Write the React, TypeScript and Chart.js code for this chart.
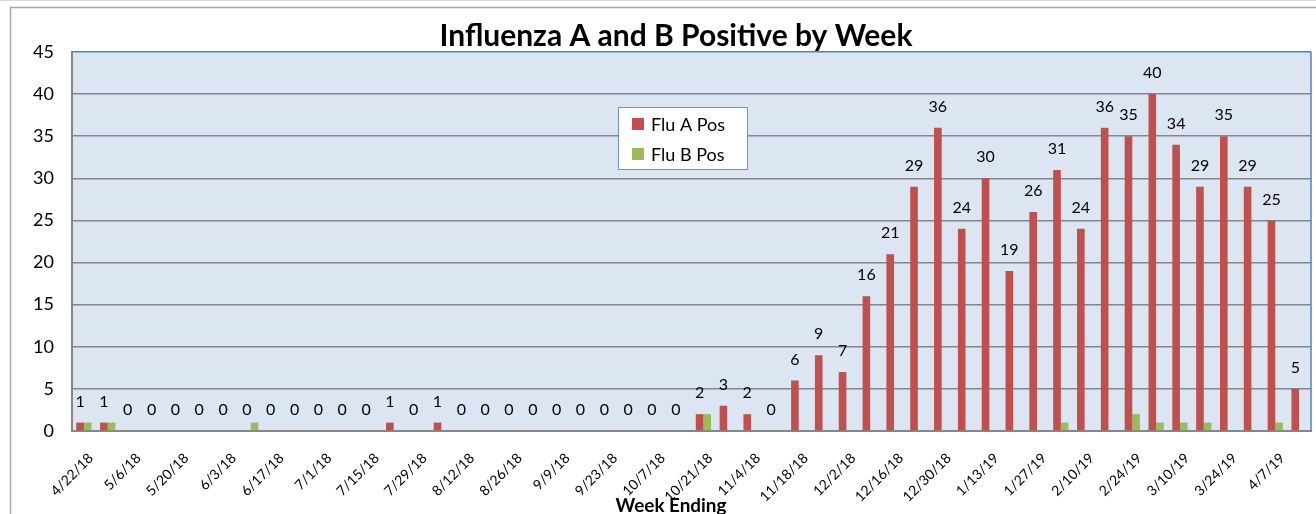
import React, { useEffect, useRef } from "react";
import { Chart, registerables } from "chart.js";

Chart.register(...registerables);

const weekLabels: string[] = [
  "4/22/18", "4/29/18", "5/6/18", "5/13/18", "5/20/18", "5/27/18", "6/3/18", "6/10/18",
  "6/17/18", "6/24/18", "7/1/18", "7/8/18", "7/15/18", "7/22/18", "7/29/18", "8/5/18",
  "8/12/18", "8/19/18", "8/26/18", "9/2/18", "9/9/18", "9/16/18", "9/23/18", "9/30/18",
  "10/7/18", "10/14/18", "10/21/18", "10/28/18", "11/4/18", "11/11/18", "11/18/18", "11/25/18",
  "12/2/18", "12/9/18", "12/16/18", "12/23/18", "12/30/18", "1/6/19", "1/13/19", "1/20/19",
  "1/27/19", "2/3/19", "2/10/19", "2/17/19", "2/24/19", "3/3/19", "3/10/19", "3/17/19",
  "3/24/19", "3/31/19", "4/7/19", "4/14/19",
];

const fluA: number[] = [
  1, 1, 0, 0, 0, 0, 0, 0, 0, 0, 0, 0, 0, 1, 0, 1, 0, 0, 0, 0, 0, 0, 0, 0, 0, 0,
  2, 3, 2, 0, 6, 9, 7, 16, 21, 29, 36, 24, 30, 19, 26, 31, 24, 36, 35, 40, 34, 29, 35, 29, 25, 5,
];

const fluB: number[] = [
  1, 1, 0, 0, 0, 0, 0, 1, 0, 0, 0, 0, 0, 0, 0, 0, 0, 0, 0, 0, 0, 0, 0, 0, 0, 0,
  2, 0, 0, 0, 0, 0, 0, 0, 0, 0, 0, 0, 0, 0, 0, 1, 0, 0, 2, 1, 1, 1, 0, 0, 1, 0,
];

const seriesNames: string[] = ["Flu A Pos", "Flu B Pos"];
const chartTitle = "Influenza A and B Positive by Week";
const xAxisTitle = "Week Ending";

const RED = "#C0504D";
const GREEN = "#9BBB59";
const BLUE = "#4F81BD";
const GRID = "#868686";
const FONT = "Lato, 'Open Sans', sans-serif";

function fitFont(ctx: CanvasRenderingContext2D, text: string, weight: string, target: number) {
  ctx.font = `${weight} 20px ${FONT}`;
  const w = ctx.measureText(text).width;
  return (20 * target) / w;
}

const decorPlugin = {
  id: "decor",
  beforeDraw(chart: any) {
    const { ctx, chartArea, width, height } = chart;
    ctx.save();
    ctx.fillStyle = "#ffffff";
    ctx.fillRect(0, 0, width, height);
    ctx.strokeStyle = "#D9D9D9";
    ctx.lineWidth = 1;
    ctx.beginPath();
    ctx.moveTo(0, 0.5);
    ctx.lineTo(width, 0.5);
    ctx.stroke();
    ctx.strokeStyle = "#A6A6A6";
    ctx.lineWidth = 1.5;
    ctx.beginPath();
    ctx.moveTo(10.5, height + 2);
    ctx.lineTo(10.5, 7.5);
    ctx.lineTo(width + 2, 7.5);
    ctx.stroke();
    ctx.fillStyle = "#DCE6F2";
    ctx.fillRect(chartArea.left, chartArea.top, chartArea.right - chartArea.left, chartArea.bottom - chartArea.top);
    ctx.restore();
  },
  afterDatasetsDraw(chart: any) {
    const { ctx, chartArea } = chart;
    ctx.save();
    ctx.strokeStyle = BLUE;
    ctx.lineWidth = 1.5;
    ctx.beginPath();
    ctx.moveTo(chartArea.right, chartArea.top);
    ctx.lineTo(chartArea.right, chartArea.bottom);
    ctx.stroke();

    const meta = chart.getDatasetMeta(0);
    ctx.fillStyle = "#000000";
    ctx.font = `16px ${FONT}`;
    ctx.textAlign = "center";
    ctx.textBaseline = "middle";
    meta.data.forEach((bar: any, i: number) => {
      ctx.fillText(String(fluA[i]), bar.x, bar.y - 21);
    });

    const ts = fitFont(ctx, chartTitle, "bold", 473);
    ctx.font = `bold ${ts}px ${FONT}`;
    ctx.textAlign = "center";
    ctx.textBaseline = "alphabetic";
    ctx.fillText(chartTitle, 676, 46);

    const xs = fitFont(ctx, xAxisTitle, "bold", 111);
    ctx.font = `bold ${xs}px ${FONT}`;
    ctx.fillText(xAxisTitle, 671, 512);

    const lx = 618.5, ly = 107.5, lw = 129, lh = 62;
    ctx.fillStyle = "#ffffff";
    ctx.fillRect(lx, ly, lw, lh);
    ctx.strokeStyle = "#6F93C8";
    ctx.lineWidth = 1;
    ctx.strokeRect(lx, ly, lw, lh);
    const colors = [RED, GREEN];
    const ys = [124, 154];
    ctx.font = `18px ${FONT}`;
    ctx.textAlign = "left";
    ctx.textBaseline = "middle";
    seriesNames.forEach((name, i) => {
      ctx.fillStyle = colors[i];
      ctx.fillRect(632, ys[i] - 6, 12, 12);
      ctx.fillStyle = "#000000";
      ctx.fillText(name, 651, ys[i] + 1);
    });
    ctx.restore();
  },
};

export default function App() {
  const ref = useRef<HTMLCanvasElement | null>(null);
  useEffect(() => {
    if (!ref.current) return;
    const chart = new Chart(ref.current, {
      type: "bar",
      data: {
        labels: weekLabels,
        datasets: [
          { label: seriesNames[0], data: fluA, backgroundColor: RED, categoryPercentage: 0.64, barPercentage: 1 },
          { label: seriesNames[1], data: fluB, backgroundColor: GREEN, categoryPercentage: 0.64, barPercentage: 1 },
        ],
      },
      options: {
        responsive: true,
        maintainAspectRatio: false,
        animation: false,
        layout: { padding: { left: 0, right: 5, top: 52, bottom: 0 } },
        plugins: {
          legend: { display: false },
          title: { display: false },
          tooltip: { enabled: false },
        },
        scales: {
          x: {
            grid: { display: false },
            border: { color: GRID, width: 2 },
            ticks: {
              autoSkip: false,
              minRotation: 45,
              maxRotation: 45,
              padding: 11,
              labelOffset: 7,
              color: "#000000",
              font: { family: FONT, size: 14 },
              callback: (_v: any, i: number) => (i % 2 === 0 ? weekLabels[i] : ""),
            },
            afterFit: (s: any) => {
              s.height = 83;
              s.paddingLeft = 0;
              s.paddingRight = 0;
            },
          },
          y: {
            min: 0,
            max: 45,
            ticks: {
              stepSize: 5,
              padding: 18,
              color: "#000000",
              font: { family: FONT, size: 18 },
            },
            grid: {
              drawTicks: false,
              color: (c: any) => (c.tick && c.tick.value === 45 ? BLUE : GRID),
              lineWidth: 1.5,
            },
            border: { color: GRID, width: 2 },
            afterFit: (s: any) => {
              s.width = 72;
            },
          },
        },
      },
      plugins: [decorPlugin],
    });
    return () => chart.destroy();
  }, []);
  return (
    <div style={{ position: "fixed", left: 0, top: 0, width: 1316, height: 514 }}>
      <canvas ref={ref} />
    </div>
  );
}
